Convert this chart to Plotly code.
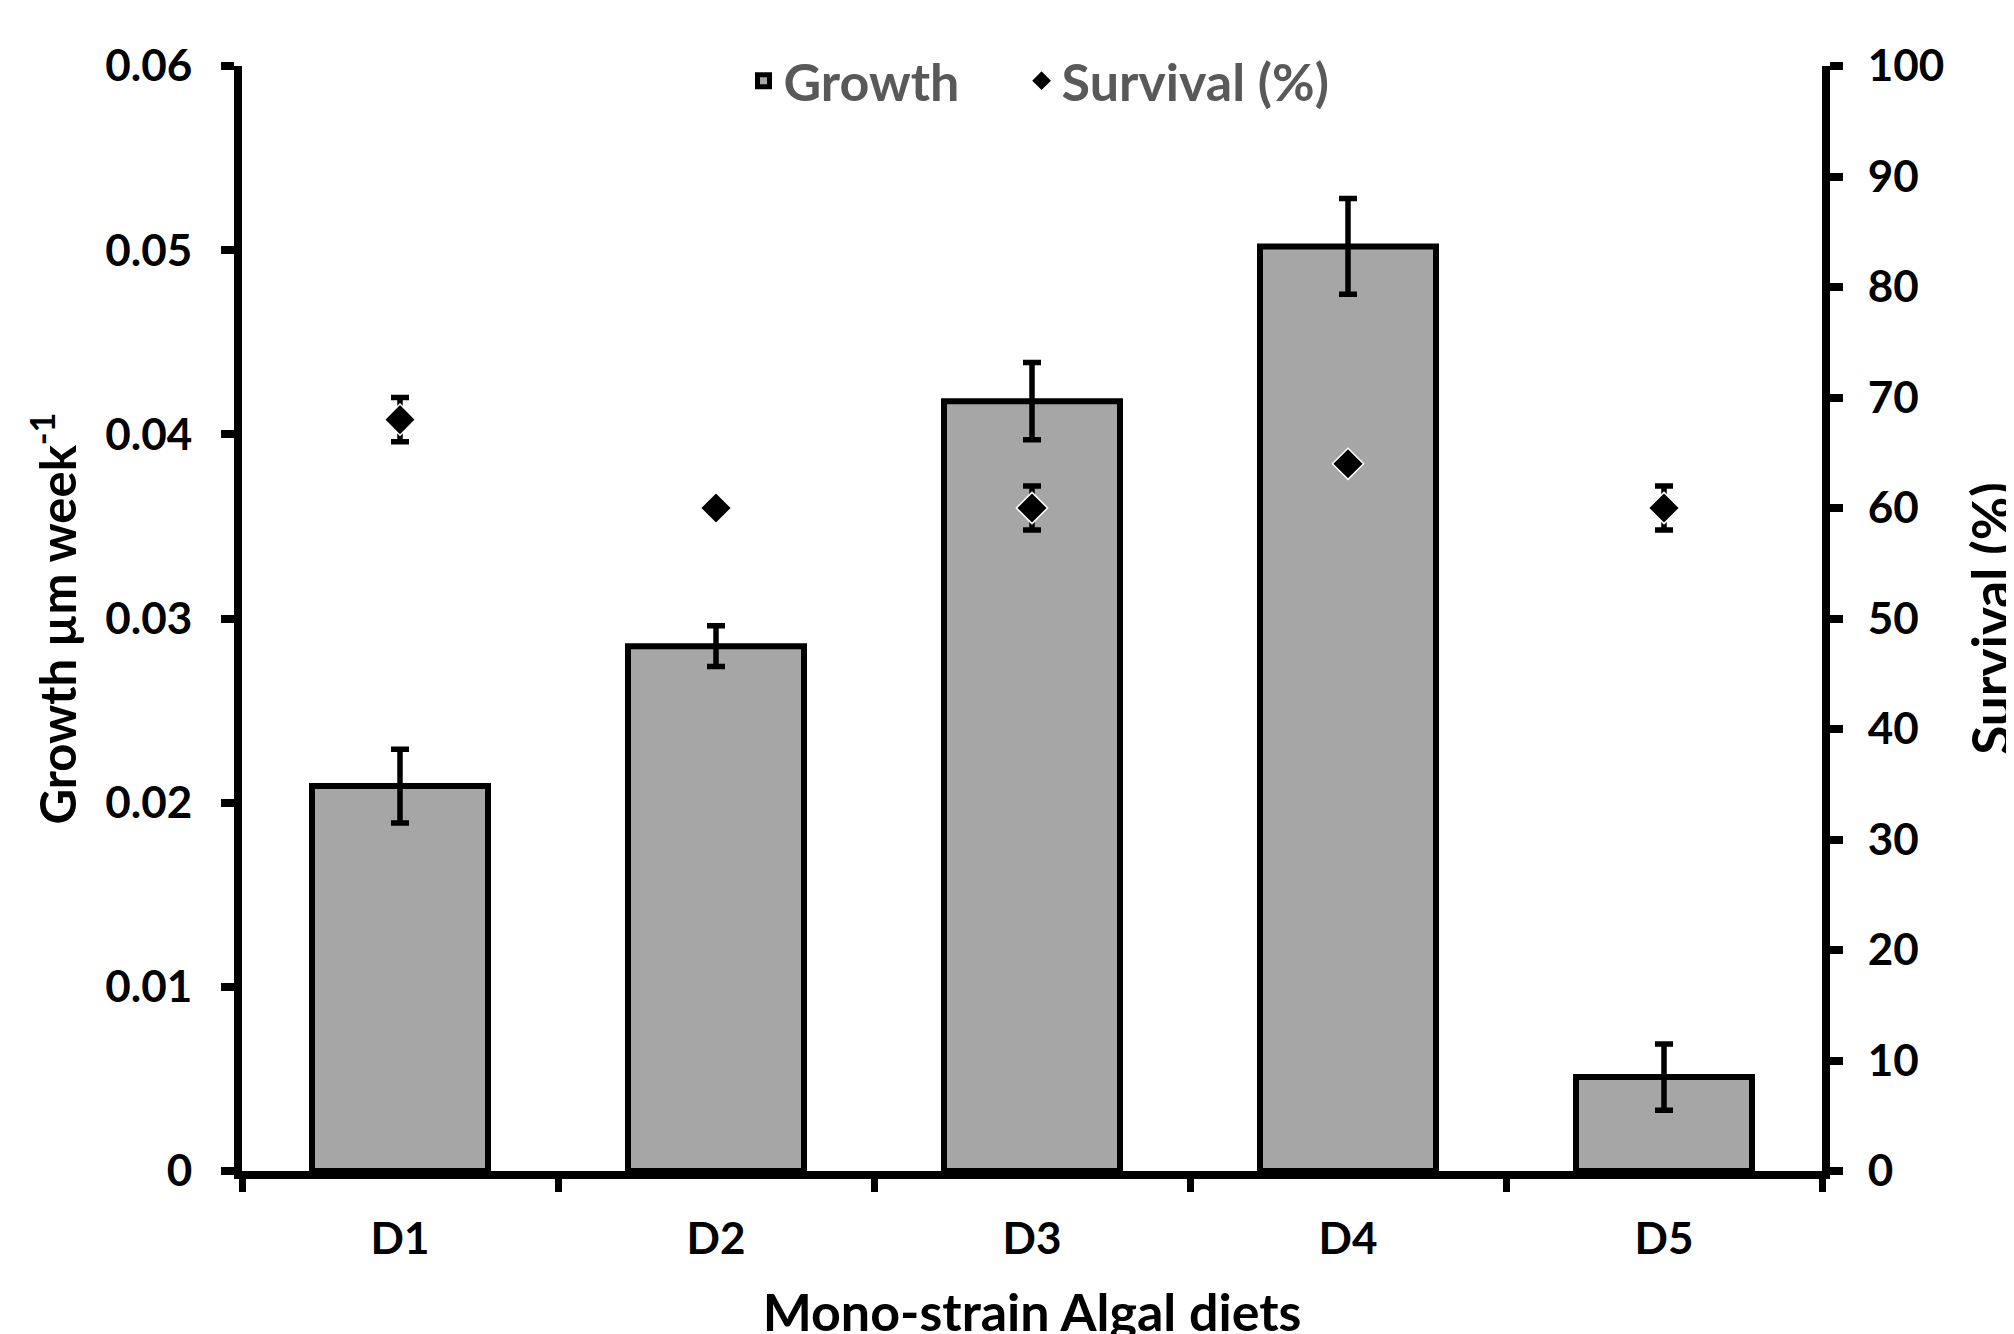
import plotly.graph_objects as go

diets = ["D1", "D2", "D3", "D4", "D5"]
growth = [0.0209, 0.0285, 0.0418, 0.0502, 0.0051]
growth_err = [0.0020, 0.0011, 0.0021, 0.0026, 0.0018]
survival = [68, 60, 60, 64, 60]
survival_err = [2, 0, 2, 0, 2]

FONT = "Lato, 'Open Sans', sans-serif"
W, H = 2014, 1334

fig = go.Figure()
fig.add_trace(go.Bar(
    x=diets, y=growth, name="Growth",
    marker=dict(color="#a6a6a6", line=dict(color="black", width=6)),
    error_y=dict(type="data", array=growth_err, visible=True,
                 color="black", thickness=5.5, width=9),
    yaxis="y", legend="legend",
))
fig.add_trace(go.Scatter(
    x=diets, y=survival, name="Survival (%)", mode="markers",
    marker=dict(symbol="diamond", size=24, color="black",
                line=dict(color="white", width=1.5)),
    error_y=dict(type="data", array=survival_err, visible=True,
                 color="black", thickness=5.5, width=9),
    yaxis="y2", legend="legend2",
))

tickfont = dict(family=FONT, size=44, color="black", weight=700)
legfont = dict(family=FONT, size=52, color="#595959", weight=700)

fig.update_layout(
    width=W, height=H,
    margin=dict(l=234, r=200, t=58, b=171, autoexpand=False),
    paper_bgcolor="white", plot_bgcolor="white",
    bargap=0.443,
    showlegend=True,
    legend=dict(orientation="h", x=0.3174, xanchor="left", y=0.9865, yanchor="middle",
                font=legfont, bgcolor="rgba(0,0,0,0)"),
    legend2=dict(orientation="h", x=0.4934, xanchor="left", y=0.9865, yanchor="middle",
                 font=legfont, bgcolor="rgba(0,0,0,0)"),
    xaxis=dict(
        type="category", showgrid=False, zeroline=False,
        showline=True, linecolor="black", linewidth=8,
        ticks="outside", tickson="boundaries", ticklen=13, tickwidth=7, tickcolor="black",
        tickfont=tickfont, ticklabelstandoff=22,
        title=dict(text="Mono-strain Algal diets",
                   font=dict(family=FONT, size=52, color="black", weight=700), standoff=37),
    ),
    yaxis=dict(
        range=[0, 0.06], dtick=0.01, showgrid=False, zeroline=False,
        showline=True, linecolor="black", linewidth=8,
        ticks="outside", ticklen=13, tickwidth=8, tickcolor="black",
        tickfont=tickfont, ticklabelstandoff=20,
        title=dict(text="Growth µm week<sup>-1</sup>",
                   font=dict(family=FONT, size=49, color="black", weight=700), standoff=16),
    ),
    yaxis2=dict(
        range=[0, 100], dtick=10, overlaying="y", side="right",
        showgrid=False, zeroline=False,
        showline=True, linecolor="black", linewidth=8,
        ticks="outside", ticklen=13, tickwidth=8, tickcolor="black",
        tickfont=tickfont, ticklabelstandoff=16,
        title=dict(text="Survival (%)",
                   font=dict(family=FONT, size=53, color="black", weight=700), standoff=34),
    ),
)

fig.write_html("out.html")
